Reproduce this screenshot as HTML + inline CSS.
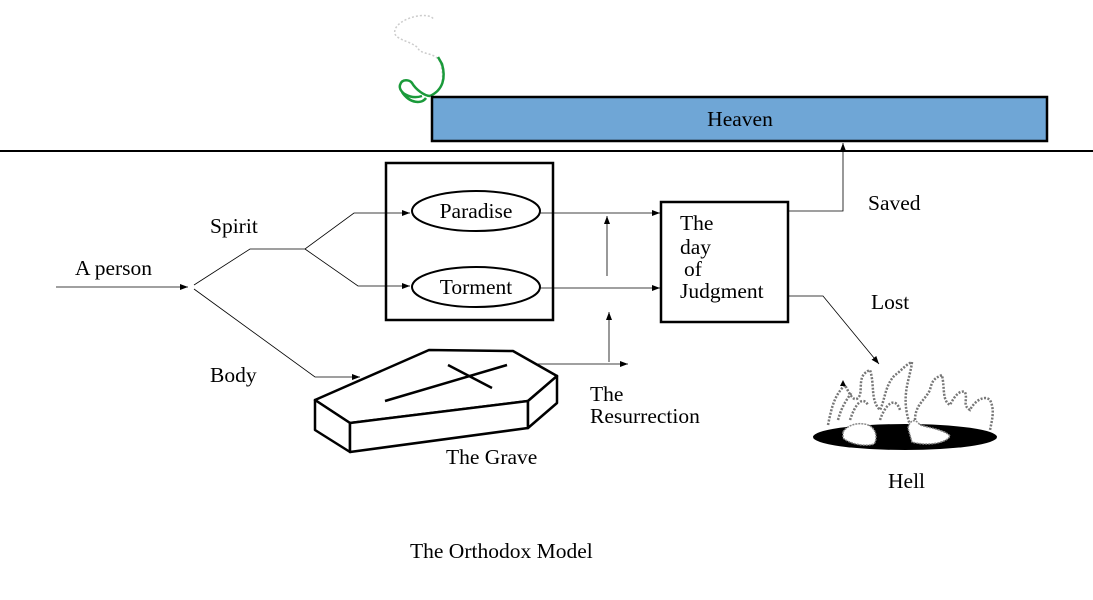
<!DOCTYPE html>
<html><head><meta charset="utf-8"><style>
html,body{margin:0;padding:0;background:#fff;}
svg{display:block;}
text{font-family:"Liberation Serif",serif;font-size:21.5px;fill:#000;}
</style></head><body>
<svg width="1093" height="600" viewBox="0 0 1093 600" xmlns="http://www.w3.org/2000/svg">
<defs>
<marker id="a" markerWidth="8" markerHeight="6" refX="8" refY="3" orient="auto" markerUnits="userSpaceOnUse">
<path d="M0,0 L8,3 L0,6 z" fill="#000"/></marker>
</defs>
<!-- smoke -->
<path d="M430,96 C445,90 444,75 440,62 C436,52 420,55 418,48 C410,40 392,40 395,30 C398,18 430,10 434,20" fill="none" stroke="#ccc" stroke-width="1.5" stroke-dasharray="2,2"/>
<path d="M430,96 C443,90 446,78 442,64 L438,57" fill="none" stroke="#1a9a3a" stroke-width="2.5"/>
<path d="M422,96 C410,100 398,92 400,85 C402,78 410,80 412,83 C416,90 425,96 430,96 M402,92 C410,104 422,104 426,98" fill="none" stroke="#1a9a3a" stroke-width="2.5"/>
<!-- heaven -->
<rect x="432" y="97" width="615" height="44" fill="#6fa6d6" stroke="#000" stroke-width="2.5"/>
<text x="740" y="126" text-anchor="middle" font-size="20">Heaven</text>
<line x1="0" y1="151" x2="1093" y2="151" stroke="#000" stroke-width="2"/>
<!-- left connectors -->
<text x="75" y="275">A person</text>
<text x="210" y="233">Spirit</text>
<text x="210" y="382">Body</text>
<line x1="56" y1="287" x2="188" y2="287" stroke="#000" stroke-width="0.8" marker-end="url(#a)"/>
<polyline points="194,285 250,249 305,249 354,213 410,213" fill="none" stroke="#000" stroke-width="0.8" marker-end="url(#a)"/>
<polyline points="305,249 358,286 410,286" fill="none" stroke="#000" stroke-width="0.8" marker-end="url(#a)"/>
<polyline points="194,289 315,377 360,377" fill="none" stroke="#000" stroke-width="0.8" marker-end="url(#a)"/>
<!-- box -->
<rect x="386" y="163" width="167" height="157" fill="none" stroke="#000" stroke-width="2.5"/>
<ellipse cx="476" cy="211" rx="64" ry="20" fill="#fff" stroke="#000" stroke-width="2"/>
<text x="476" y="218" text-anchor="middle">Paradise</text>
<ellipse cx="476" cy="287" rx="64" ry="20" fill="#fff" stroke="#000" stroke-width="2"/>
<text x="476" y="294" text-anchor="middle">Torment</text>
<line x1="540" y1="213" x2="660" y2="213" stroke="#000" stroke-width="0.8" marker-end="url(#a)"/>
<line x1="540" y1="288" x2="660" y2="288" stroke="#000" stroke-width="0.8" marker-end="url(#a)"/>
<line x1="607" y1="276" x2="607" y2="216" stroke="#000" stroke-width="0.8" marker-end="url(#a)"/>
<line x1="609" y1="362" x2="609" y2="312" stroke="#000" stroke-width="0.8" marker-end="url(#a)"/>
<line x1="513" y1="364" x2="628" y2="364" stroke="#000" stroke-width="0.8" marker-end="url(#a)"/>
<!-- judgment -->
<rect x="661" y="202" width="127" height="120" fill="none" stroke="#000" stroke-width="2.5"/>
<text x="680" y="230">The</text>
<text x="680" y="254">day</text>
<text x="684" y="276">of</text>
<text x="680" y="298">Judgment</text>
<polyline points="788,211 843,211 843,143" fill="none" stroke="#000" stroke-width="0.8" marker-end="url(#a)"/>
<polyline points="788,296 823,296 879,364" fill="none" stroke="#000" stroke-width="0.8" marker-end="url(#a)"/>
<text x="868" y="210">Saved</text>
<text x="871" y="309">Lost</text>
<!-- coffin -->
<g fill="#fff" stroke="#000" stroke-width="2.5" stroke-linejoin="round">
<polygon points="315,400 429,350 513,351 557,376 528,401 350,423"/>
<polygon points="315,400 350,423 350,452 315,430"/>
<polygon points="350,423 528,401 528,428 350,452"/>
<polygon points="528,401 557,376 557,403 528,428"/>
<line x1="385" y1="401" x2="507" y2="365"/>
<line x1="448" y1="365" x2="492" y2="388"/>
</g>
<text x="446" y="464">The Grave</text>
<text x="590" y="401">The</text>
<text x="590" y="423">Resurrection</text>
<!-- hell -->
<ellipse cx="905" cy="437" rx="92" ry="13" fill="#000"/>
<g fill="none" stroke="#777" stroke-width="2.5" stroke-dasharray="2,1.5">
<path d="M828,425 C832,405 835,395 845,385 C850,395 855,405 860,395 C862,385 858,375 870,370 C875,385 870,400 880,410 C885,400 885,385 895,375 C900,372 905,365 912,362 C910,380 900,395 910,425"/>
<path d="M915,420 C915,405 925,400 930,390 C932,380 935,378 942,375 C945,390 942,400 950,405 C955,395 960,390 965,392 C968,400 962,405 970,410 C975,400 985,395 990,400 C995,410 992,420 990,430"/>
<path d="M850,420 C855,405 862,395 868,405 M880,420 C885,405 895,395 900,410 M838,420 C842,405 848,398 852,392"/>
</g>
<path d="M843,432 C848,424 860,422 868,425 C876,428 878,438 874,444 C865,447 850,444 843,438 Z" fill="#fff" stroke="#888" stroke-width="1.5" stroke-dasharray="2,1"/>
<path d="M908,428 C910,420 915,418 920,425 C930,428 945,430 950,436 C946,444 925,446 912,442 Z" fill="#fff" stroke="#888" stroke-width="1.5" stroke-dasharray="2,1"/>
<path d="M840,386 L843,380 L846,386 Z" fill="#000"/>
<text x="888" y="488">Hell</text>
<text x="410" y="558">The Orthodox Model</text>
</svg>
</body></html>
